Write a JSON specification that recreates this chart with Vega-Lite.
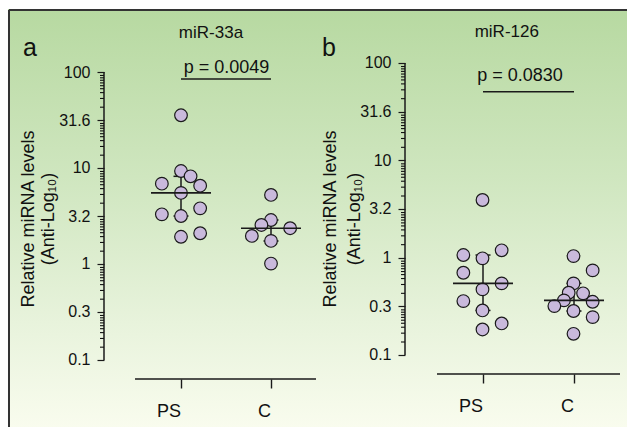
{
  "$schema": "https://vega.github.io/schema/vega-lite/v6.json",
  "background": "white",
  "padding": {"left": 7, "top": 8, "right": 0, "bottom": 0},
  "spacing": 0,
  "bounds": "flush",
  "config": {
    "font": "Liberation Sans",
    "view": {"stroke": null, "strokeWidth": 0},
    "axis": {"labelFont": "Liberation Sans", "titleFont": "Liberation Sans", "grid": false, "zindex": 1},
    "text": {"font": "Liberation Sans", "color": "#111111"}
  },
  "datasets": {
    "panels": [
      {"panel": "a", "title": "miR-33a", "letter": "a", "p": "p = 0.0049"},
      {"panel": "b", "title": "miR-126", "letter": "b", "p": "p = 0.0830"}
    ],
    "minor": [
      {"v": 92}, {"v": 87}, {"v": 82}, {"v": 77}, {"v": 72}, {"v": 67}, {"v": 61}, {"v": 53}, {"v": 43},
      {"v": 29.09}, {"v": 27.51}, {"v": 25.93}, {"v": 24.35}, {"v": 22.77}, {"v": 21.19}, {"v": 19.29}, {"v": 16.76}, {"v": 13.6},
      {"v": 9.2}, {"v": 8.7}, {"v": 8.2}, {"v": 7.7}, {"v": 7.2}, {"v": 6.7}, {"v": 6.1}, {"v": 5.3}, {"v": 4.3},
      {"v": 2.909}, {"v": 2.751}, {"v": 2.593}, {"v": 2.435}, {"v": 2.277}, {"v": 2.119}, {"v": 1.929}, {"v": 1.676}, {"v": 1.36},
      {"v": 0.92}, {"v": 0.87}, {"v": 0.82}, {"v": 0.77}, {"v": 0.72}, {"v": 0.67}, {"v": 0.61}, {"v": 0.53}, {"v": 0.43},
      {"v": 0.2909}, {"v": 0.2751}, {"v": 0.2593}, {"v": 0.2435}, {"v": 0.2277}, {"v": 0.2119}, {"v": 0.1929}, {"v": 0.1676}, {"v": 0.136}
    ],
    "points": [
      {"panel": "a", "group": "PS", "value": 35.4, "slot": 0},
      {"panel": "a", "group": "PS", "value": 9.3, "slot": 0},
      {"panel": "a", "group": "PS", "value": 8.19, "slot": 1},
      {"panel": "a", "group": "PS", "value": 6.87, "slot": -2},
      {"panel": "a", "group": "PS", "value": 6.54, "slot": 2},
      {"panel": "a", "group": "PS", "value": 5.5, "slot": 0},
      {"panel": "a", "group": "PS", "value": 3.8, "slot": 2},
      {"panel": "a", "group": "PS", "value": 3.29, "slot": -2},
      {"panel": "a", "group": "PS", "value": 3.16, "slot": 0},
      {"panel": "a", "group": "PS", "value": 2.09, "slot": 2},
      {"panel": "a", "group": "PS", "value": 1.92, "slot": 0},
      {"panel": "a", "group": "C", "value": 5.24, "slot": 0},
      {"panel": "a", "group": "C", "value": 2.87, "slot": 0},
      {"panel": "a", "group": "C", "value": 2.55, "slot": -1},
      {"panel": "a", "group": "C", "value": 2.36, "slot": 2},
      {"panel": "a", "group": "C", "value": 1.96, "slot": -2},
      {"panel": "a", "group": "C", "value": 1.74, "slot": 0},
      {"panel": "a", "group": "C", "value": 1.01, "slot": 0},
      {"panel": "b", "group": "PS", "value": 3.91, "slot": 0},
      {"panel": "b", "group": "PS", "value": 1.19, "slot": 2},
      {"panel": "b", "group": "PS", "value": 1.064, "slot": -2},
      {"panel": "b", "group": "PS", "value": 0.984, "slot": 0},
      {"panel": "b", "group": "PS", "value": 0.70, "slot": -2},
      {"panel": "b", "group": "PS", "value": 0.544, "slot": 2},
      {"panel": "b", "group": "PS", "value": 0.472, "slot": 0},
      {"panel": "b", "group": "PS", "value": 0.358, "slot": -2},
      {"panel": "b", "group": "PS", "value": 0.287, "slot": 0},
      {"panel": "b", "group": "PS", "value": 0.211, "slot": 2},
      {"panel": "b", "group": "PS", "value": 0.183, "slot": 0},
      {"panel": "b", "group": "C", "value": 1.038, "slot": 0},
      {"panel": "b", "group": "C", "value": 0.74, "slot": 2},
      {"panel": "b", "group": "C", "value": 0.544, "slot": 0},
      {"panel": "b", "group": "C", "value": 0.436, "slot": -0.5},
      {"panel": "b", "group": "C", "value": 0.43, "slot": 1},
      {"panel": "b", "group": "C", "value": 0.364, "slot": -1},
      {"panel": "b", "group": "C", "value": 0.352, "slot": 2},
      {"panel": "b", "group": "C", "value": 0.318, "slot": -2},
      {"panel": "b", "group": "C", "value": 0.283, "slot": 0},
      {"panel": "b", "group": "C", "value": 0.245, "slot": 2},
      {"panel": "b", "group": "C", "value": 0.165, "slot": 0}
    ],
    "stats": [
      {"panel": "a", "group": "PS", "median": 5.5, "lo": 3.16, "hi": 8.19},
      {"panel": "a", "group": "C", "median": 2.36, "lo": 1.74, "hi": 2.87},
      {"panel": "b", "group": "PS", "median": 0.544, "lo": 0.287, "hi": 1.064},
      {"panel": "b", "group": "C", "median": 0.364, "lo": 0.283, "hi": 0.544}
    ]
  },
  "resolve": {"scale": {"x": "independent", "y": "independent"}},
  "hconcat": [
    {
      "width": 311,
      "height": 419,
      "resolve": {"scale": {"x": "independent"}},
      "layer": [
        {
          "data": {"name": "panels"},
          "transform": [{"filter": "datum.panel == 'a'"}],
          "layer": [
            {
              "mark": {"type": "rect", "stroke": null, "strokeWidth": 0, "fill": {"gradient": "linear", "x1": 0, "y1": 0, "x2": 0, "y2": 1, "stops": [{"offset": 0, "color": "#b7d9a1"}, {"offset": 0.4, "color": "#cfe6bf"}, {"offset": 0.75, "color": "#e8f3dc"}, {"offset": 1, "color": "#f9fcee"}]}},
              "encoding": {
                "x": {"datum": 0, "type": "quantitative", "scale": {"domain": [0, 1]}, "axis": null},
                "x2": {"datum": 1},
                "y": {"datum": 0.01957, "type": "quantitative", "scale": {"type": "log", "domain": [0.01957, 453.2], "nice": false}},
                "y2": {"datum": 453.2}
              }
            },
            {
              "mark": {"type": "rule", "strokeWidth": 2, "color": "#333333"},
              "encoding": {
                "x": {"datum": 0.003215, "type": "quantitative", "scale": {"domain": [0, 1]}, "axis": null},
                "y": {"datum": 0.02004, "type": "quantitative", "scale": {"type": "log", "domain": [0.01957, 453.2], "nice": false}},
                "y2": {"datum": 442.4}
              }
            },
            {
              "mark": {"type": "rule", "strokeWidth": 2, "color": "#333333"},
              "encoding": {
                "x": {"datum": 0.003215, "type": "quantitative", "scale": {"domain": [0, 1]}, "axis": null},
                "x2": {"datum": 1},
                "y": {"datum": 442.4, "type": "quantitative", "scale": {"type": "log", "domain": [0.01957, 453.2], "nice": false}}
              }
            },
            {
              "mark": {"type": "rule", "strokeWidth": 1.5, "color": "#1a1a1a"},
              "encoding": {
                "x": {"datum": 0.30868, "type": "quantitative", "scale": {"domain": [0, 1]}, "axis": null},
                "y": {"datum": 0.1, "type": "quantitative", "scale": {"type": "log", "domain": [0.01957, 453.2], "nice": false}},
                "y2": {"datum": 100}
              }
            },
            {
              "mark": {"type": "rule", "strokeWidth": 1.5, "color": "#1a1a1a"},
              "encoding": {
                "x": {"datum": 0.4084, "type": "quantitative", "scale": {"domain": [0, 1]}, "axis": null},
                "x2": {"datum": 0.9904},
                "y": {"datum": 0.0634, "type": "quantitative", "scale": {"type": "log", "domain": [0.01957, 453.2], "nice": false}}
              }
            },
            {
              "mark": {"type": "text", "fontSize": 17, "align": "center", "baseline": "alphabetic", "color": "#111111"},
              "encoding": {
                "x": {"datum": 0.6527, "type": "quantitative", "scale": {"domain": [0, 1]}, "axis": null},
                "y": {"datum": 227.6, "type": "quantitative", "scale": {"type": "log", "domain": [0.01957, 453.2], "nice": false}},
                "text": {"field": "title"}
              }
            },
            {
              "mark": {"type": "text", "fontSize": 25, "align": "left", "baseline": "alphabetic", "color": "#111111"},
              "encoding": {
                "x": {"datum": 0.0482, "type": "quantitative", "scale": {"domain": [0, 1]}, "axis": null},
                "y": {"datum": 146.8, "type": "quantitative", "scale": {"type": "log", "domain": [0.01957, 453.2], "nice": false}},
                "text": {"field": "letter"}
              }
            },
            {
              "mark": {"type": "text", "fontSize": 18, "align": "center", "baseline": "alphabetic", "color": "#111111"},
              "encoding": {
                "x": {"datum": 0.7026, "type": "quantitative", "scale": {"domain": [0, 1]}, "axis": null},
                "y": {"datum": 98.3, "type": "quantitative", "scale": {"type": "log", "domain": [0.01957, 453.2], "nice": false}},
                "text": {"field": "p"}
              }
            }
          ]
        },
        {
          "data": {"name": "minor"},
          "mark": {"type": "rule", "strokeWidth": 1.1, "color": "#111111"},
          "encoding": {
            "x": {"datum": 0.29582, "type": "quantitative", "scale": {"domain": [0, 1]}, "axis": null},
            "x2": {"datum": 0.30868},
            "y": {"field": "v", "type": "quantitative", "scale": {"type": "log", "domain": [0.01957, 453.2], "nice": false}}
          }
        },
        {
          "layer": [
            {
              "data": {"name": "panels"},
              "transform": [{"filter": "datum.panel == 'a'"}],
              "mark": {"type": "rule", "strokeWidth": 1.5, "color": "#1a1a1a"},
              "encoding": {
                "x": {"datum": "PS", "type": "nominal", "scale": {"type": "band", "domain": ["PS", "C"], "paddingInner": 0, "paddingOuter": 0.7278, "align": 0.9771}},
                "x2": {"datum": "C"},
                "y": {"datum": 84.5, "type": "quantitative", "scale": {"type": "log", "domain": [0.01957, 453.2], "nice": false}}
              }
            },
            {
              "data": {"name": "stats"},
              "transform": [{"filter": "datum.panel == 'a'"}],
              "mark": {"type": "rule", "strokeWidth": 1.5, "color": "#1a1a1a"},
              "encoding": {
                "x": {"field": "group", "type": "nominal", "scale": {"type": "band", "domain": ["PS", "C"], "paddingInner": 0, "paddingOuter": 0.7278, "align": 0.9771}},
                "y": {"field": "lo", "type": "quantitative", "scale": {"type": "log", "domain": [0.01957, 453.2], "nice": false}},
                "y2": {"field": "hi"}
              }
            },
            {
              "data": {"name": "stats"},
              "transform": [{"filter": "datum.panel == 'a'"}],
              "mark": {"type": "tick", "size": 15, "thickness": 1.5, "color": "#1a1a1a", "opacity": 1},
              "encoding": {
                "x": {"field": "group", "type": "nominal", "scale": {"type": "band", "domain": ["PS", "C"], "paddingInner": 0, "paddingOuter": 0.7278, "align": 0.9771}},
                "y": {"field": "lo", "type": "quantitative", "scale": {"type": "log", "domain": [0.01957, 453.2], "nice": false}}
              }
            },
            {
              "data": {"name": "stats"},
              "transform": [{"filter": "datum.panel == 'a'"}],
              "mark": {"type": "tick", "size": 15, "thickness": 1.5, "color": "#1a1a1a", "opacity": 1},
              "encoding": {
                "x": {"field": "group", "type": "nominal", "scale": {"type": "band", "domain": ["PS", "C"], "paddingInner": 0, "paddingOuter": 0.7278, "align": 0.9771}},
                "y": {"field": "hi", "type": "quantitative", "scale": {"type": "log", "domain": [0.01957, 453.2], "nice": false}}
              }
            },
            {
              "data": {"name": "points"},
              "transform": [{"filter": "datum.panel == 'a'"}],
              "mark": {"type": "circle", "size": 160, "fill": "#c9b9dc", "stroke": "#1a1a1a", "strokeWidth": 1.2, "opacity": 1},
              "encoding": {
                "x": {"field": "group", "type": "nominal", "scale": {"type": "band", "domain": ["PS", "C"], "paddingInner": 0, "paddingOuter": 0.7278, "align": 0.9771},
                  "axis": {"orient": "bottom", "offset": -49, "domain": false, "grid": false, "ticks": true, "tickSize": 9, "tickWidth": 1.4, "tickColor": "#1a1a1a", "labelFontSize": 18, "labelPadding": 23, "labelAngle": 0, "labelColor": "#111111", "title": null, "zindex": 1}},
                "xOffset": {"field": "slot", "type": "quantitative", "scale": {"domain": [-4.7, 4.7]}},
                "y": {"field": "value", "type": "quantitative", "scale": {"type": "log", "domain": [0.01957, 453.2], "nice": false},
                  "axis": {"orient": "left", "offset": -96, "domain": false, "grid": false, "zindex": 1,
                    "values": [100, 31.62, 10, 3.162, 1, 0.3162, 0.1],
                    "labelExpr": "datum.value == 100 ? '100' : datum.value == 31.62 ? '31.6' : datum.value == 10 ? '10' : datum.value == 3.162 ? '3.2' : datum.value == 1 ? '1' : datum.value == 0.3162 ? '0.3' : datum.value == 0.1 ? '0.1' : ''",
                    "tickSize": 7,
                    "tickWidth": 1.2, "tickColor": "#1a1a1a", "labelFontSize": 16, "labelPadding": 7, "labelColor": "#111111", "labelOverlap": false, "labelFlush": false, "labelBound": false,
                    "title": ["Relative miRNA levels", "(Anti-Log₁₀)"], "titleFontSize": 18, "titleFontWeight": "normal", "titleColor": "#111111", "titlePadding": 1, "titleLineHeight": 20}}
              }
            },
            {
              "data": {"name": "stats"},
              "transform": [{"filter": "datum.panel == 'a'"}],
              "mark": {"type": "tick", "size": 60, "thickness": 1.6, "color": "#1a1a1a", "opacity": 1},
              "encoding": {
                "x": {"field": "group", "type": "nominal", "scale": {"type": "band", "domain": ["PS", "C"], "paddingInner": 0, "paddingOuter": 0.7278, "align": 0.9771}},
                "y": {"field": "median", "type": "quantitative", "scale": {"type": "log", "domain": [0.01957, 453.2], "nice": false}}
              }
            }
          ]
        }
      ]
    },
    {
      "width": 309,
      "height": 419,
      "resolve": {"scale": {"x": "independent"}},
      "layer": [
        {
          "data": {"name": "panels"},
          "transform": [{"filter": "datum.panel == 'b'"}],
          "layer": [
            {
              "mark": {"type": "rect", "stroke": null, "strokeWidth": 0, "fill": {"gradient": "linear", "x1": 0, "y1": 0, "x2": 0, "y2": 1, "stops": [{"offset": 0, "color": "#b7d9a1"}, {"offset": 0.4, "color": "#cfe6bf"}, {"offset": 0.75, "color": "#e8f3dc"}, {"offset": 1, "color": "#f9fcee"}]}},
              "encoding": {
                "x": {"datum": 0, "type": "quantitative", "scale": {"domain": [0, 1]}, "axis": null},
                "x2": {"datum": 1},
                "y": {"datum": 0.01778, "type": "quantitative", "scale": {"type": "log", "domain": [0.01778, 358.7], "nice": false}},
                "y2": {"datum": 358.7}
              }
            },
            {
              "mark": {"type": "rule", "strokeWidth": 2, "color": "#333333"},
              "encoding": {
                "x": {"datum": 0, "type": "quantitative", "scale": {"domain": [0, 1]}, "axis": null},
                "x2": {"datum": 0.99676},
                "y": {"datum": 350.4, "type": "quantitative", "scale": {"type": "log", "domain": [0.01778, 358.7], "nice": false}}
              }
            },
            {
              "mark": {"type": "rule", "strokeWidth": 1.5, "color": "#1a1a1a"},
              "encoding": {
                "x": {"datum": 0.27832, "type": "quantitative", "scale": {"domain": [0, 1]}, "axis": null},
                "y": {"datum": 0.1, "type": "quantitative", "scale": {"type": "log", "domain": [0.01778, 358.7], "nice": false}},
                "y2": {"datum": 100}
              }
            },
            {
              "mark": {"type": "rule", "strokeWidth": 1.5, "color": "#1a1a1a"},
              "encoding": {
                "x": {"datum": 0.38188, "type": "quantitative", "scale": {"domain": [0, 1]}, "axis": null},
                "x2": {"datum": 0.97411},
                "y": {"datum": 0.0638, "type": "quantitative", "scale": {"type": "log", "domain": [0.01778, 358.7], "nice": false}}
              }
            },
            {
              "mark": {"type": "text", "fontSize": 17, "align": "center", "baseline": "alphabetic", "color": "#111111"},
              "encoding": {
                "x": {"datum": 0.60777, "type": "quantitative", "scale": {"domain": [0, 1]}, "axis": null},
                "y": {"datum": 185, "type": "quantitative", "scale": {"type": "log", "domain": [0.01778, 358.7], "nice": false}},
                "text": {"field": "title"}
              }
            },
            {
              "mark": {"type": "text", "fontSize": 25, "align": "left", "baseline": "alphabetic", "color": "#111111"},
              "encoding": {
                "x": {"datum": 0.00971, "type": "quantitative", "scale": {"domain": [0, 1]}, "axis": null},
                "y": {"datum": 118, "type": "quantitative", "scale": {"type": "log", "domain": [0.01778, 358.7], "nice": false}},
                "text": {"field": "letter"}
              }
            },
            {
              "mark": {"type": "text", "fontSize": 18, "align": "center", "baseline": "alphabetic", "color": "#111111"},
              "encoding": {
                "x": {"datum": 0.65049, "type": "quantitative", "scale": {"domain": [0, 1]}, "axis": null},
                "y": {"datum": 65.3, "type": "quantitative", "scale": {"type": "log", "domain": [0.01778, 358.7], "nice": false}},
                "text": {"field": "p"}
              }
            }
          ]
        },
        {
          "data": {"name": "minor"},
          "mark": {"type": "rule", "strokeWidth": 1.1, "color": "#111111"},
          "encoding": {
            "x": {"datum": 0.26537, "type": "quantitative", "scale": {"domain": [0, 1]}, "axis": null},
            "x2": {"datum": 0.27832},
            "y": {"field": "v", "type": "quantitative", "scale": {"type": "log", "domain": [0.01778, 358.7], "nice": false}}
          }
        },
        {
          "layer": [
            {
              "data": {"name": "panels"},
              "transform": [{"filter": "datum.panel == 'b'"}],
              "mark": {"type": "rule", "strokeWidth": 1.5, "color": "#1a1a1a"},
              "encoding": {
                "x": {"datum": "PS", "type": "nominal", "scale": {"type": "band", "domain": ["PS", "C"], "paddingInner": 0, "paddingOuter": 0.6978, "align": 0.9331}},
                "x2": {"datum": "C"},
                "y": {"datum": 50.7, "type": "quantitative", "scale": {"type": "log", "domain": [0.01778, 358.7], "nice": false}}
              }
            },
            {
              "data": {"name": "stats"},
              "transform": [{"filter": "datum.panel == 'b'"}],
              "mark": {"type": "rule", "strokeWidth": 1.5, "color": "#1a1a1a"},
              "encoding": {
                "x": {"field": "group", "type": "nominal", "scale": {"type": "band", "domain": ["PS", "C"], "paddingInner": 0, "paddingOuter": 0.6978, "align": 0.9331}},
                "y": {"field": "lo", "type": "quantitative", "scale": {"type": "log", "domain": [0.01778, 358.7], "nice": false}},
                "y2": {"field": "hi"}
              }
            },
            {
              "data": {"name": "stats"},
              "transform": [{"filter": "datum.panel == 'b'"}],
              "mark": {"type": "tick", "size": 15, "thickness": 1.5, "color": "#1a1a1a", "opacity": 1},
              "encoding": {
                "x": {"field": "group", "type": "nominal", "scale": {"type": "band", "domain": ["PS", "C"], "paddingInner": 0, "paddingOuter": 0.6978, "align": 0.9331}},
                "y": {"field": "lo", "type": "quantitative", "scale": {"type": "log", "domain": [0.01778, 358.7], "nice": false}}
              }
            },
            {
              "data": {"name": "stats"},
              "transform": [{"filter": "datum.panel == 'b'"}],
              "mark": {"type": "tick", "size": 15, "thickness": 1.5, "color": "#1a1a1a", "opacity": 1},
              "encoding": {
                "x": {"field": "group", "type": "nominal", "scale": {"type": "band", "domain": ["PS", "C"], "paddingInner": 0, "paddingOuter": 0.6978, "align": 0.9331}},
                "y": {"field": "hi", "type": "quantitative", "scale": {"type": "log", "domain": [0.01778, 358.7], "nice": false}}
              }
            },
            {
              "data": {"name": "points"},
              "transform": [{"filter": "datum.panel == 'b'"}],
              "mark": {"type": "circle", "size": 160, "fill": "#c9b9dc", "stroke": "#1a1a1a", "strokeWidth": 1.2, "opacity": 1},
              "encoding": {
                "x": {"field": "group", "type": "nominal", "scale": {"type": "band", "domain": ["PS", "C"], "paddingInner": 0, "paddingOuter": 0.6978, "align": 0.9331},
                  "axis": {"orient": "bottom", "offset": -54, "domain": false, "grid": false, "ticks": true, "tickSize": 9, "tickWidth": 1.4, "tickColor": "#1a1a1a", "labelFontSize": 18, "labelPadding": 23, "labelAngle": 0, "labelColor": "#111111", "title": null, "zindex": 1}},
                "xOffset": {"field": "slot", "type": "quantitative", "scale": {"domain": [-4.7, 4.7]}},
                "y": {"field": "value", "type": "quantitative", "scale": {"type": "log", "domain": [0.01778, 358.7], "nice": false},
                  "axis": {"orient": "left", "offset": -86, "domain": false, "grid": false, "zindex": 1,
                    "values": [100, 31.62, 10, 3.162, 1, 0.3162, 0.1],
                    "labelExpr": "datum.value == 100 ? '100' : datum.value == 31.62 ? '31.6' : datum.value == 10 ? '10' : datum.value == 3.162 ? '3.2' : datum.value == 1 ? '1' : datum.value == 0.3162 ? '0.3' : datum.value == 0.1 ? '0.1' : ''",
                    "tickSize": 7,
                    "tickWidth": 1.2, "tickColor": "#1a1a1a", "labelFontSize": 16, "labelPadding": 7, "labelColor": "#111111", "labelOverlap": false, "labelFlush": false, "labelBound": false,
                    "title": ["Relative miRNA levels", "(Anti-Log₁₀)"], "titleFontSize": 18, "titleFontWeight": "normal", "titleColor": "#111111", "titlePadding": -4, "titleLineHeight": 24}}
              }
            },
            {
              "data": {"name": "stats"},
              "transform": [{"filter": "datum.panel == 'b'"}],
              "mark": {"type": "tick", "size": 60, "thickness": 1.6, "color": "#1a1a1a", "opacity": 1},
              "encoding": {
                "x": {"field": "group", "type": "nominal", "scale": {"type": "band", "domain": ["PS", "C"], "paddingInner": 0, "paddingOuter": 0.6978, "align": 0.9331}},
                "y": {"field": "median", "type": "quantitative", "scale": {"type": "log", "domain": [0.01778, 358.7], "nice": false}}
              }
            }
          ]
        }
      ]
    }
  ]
}
